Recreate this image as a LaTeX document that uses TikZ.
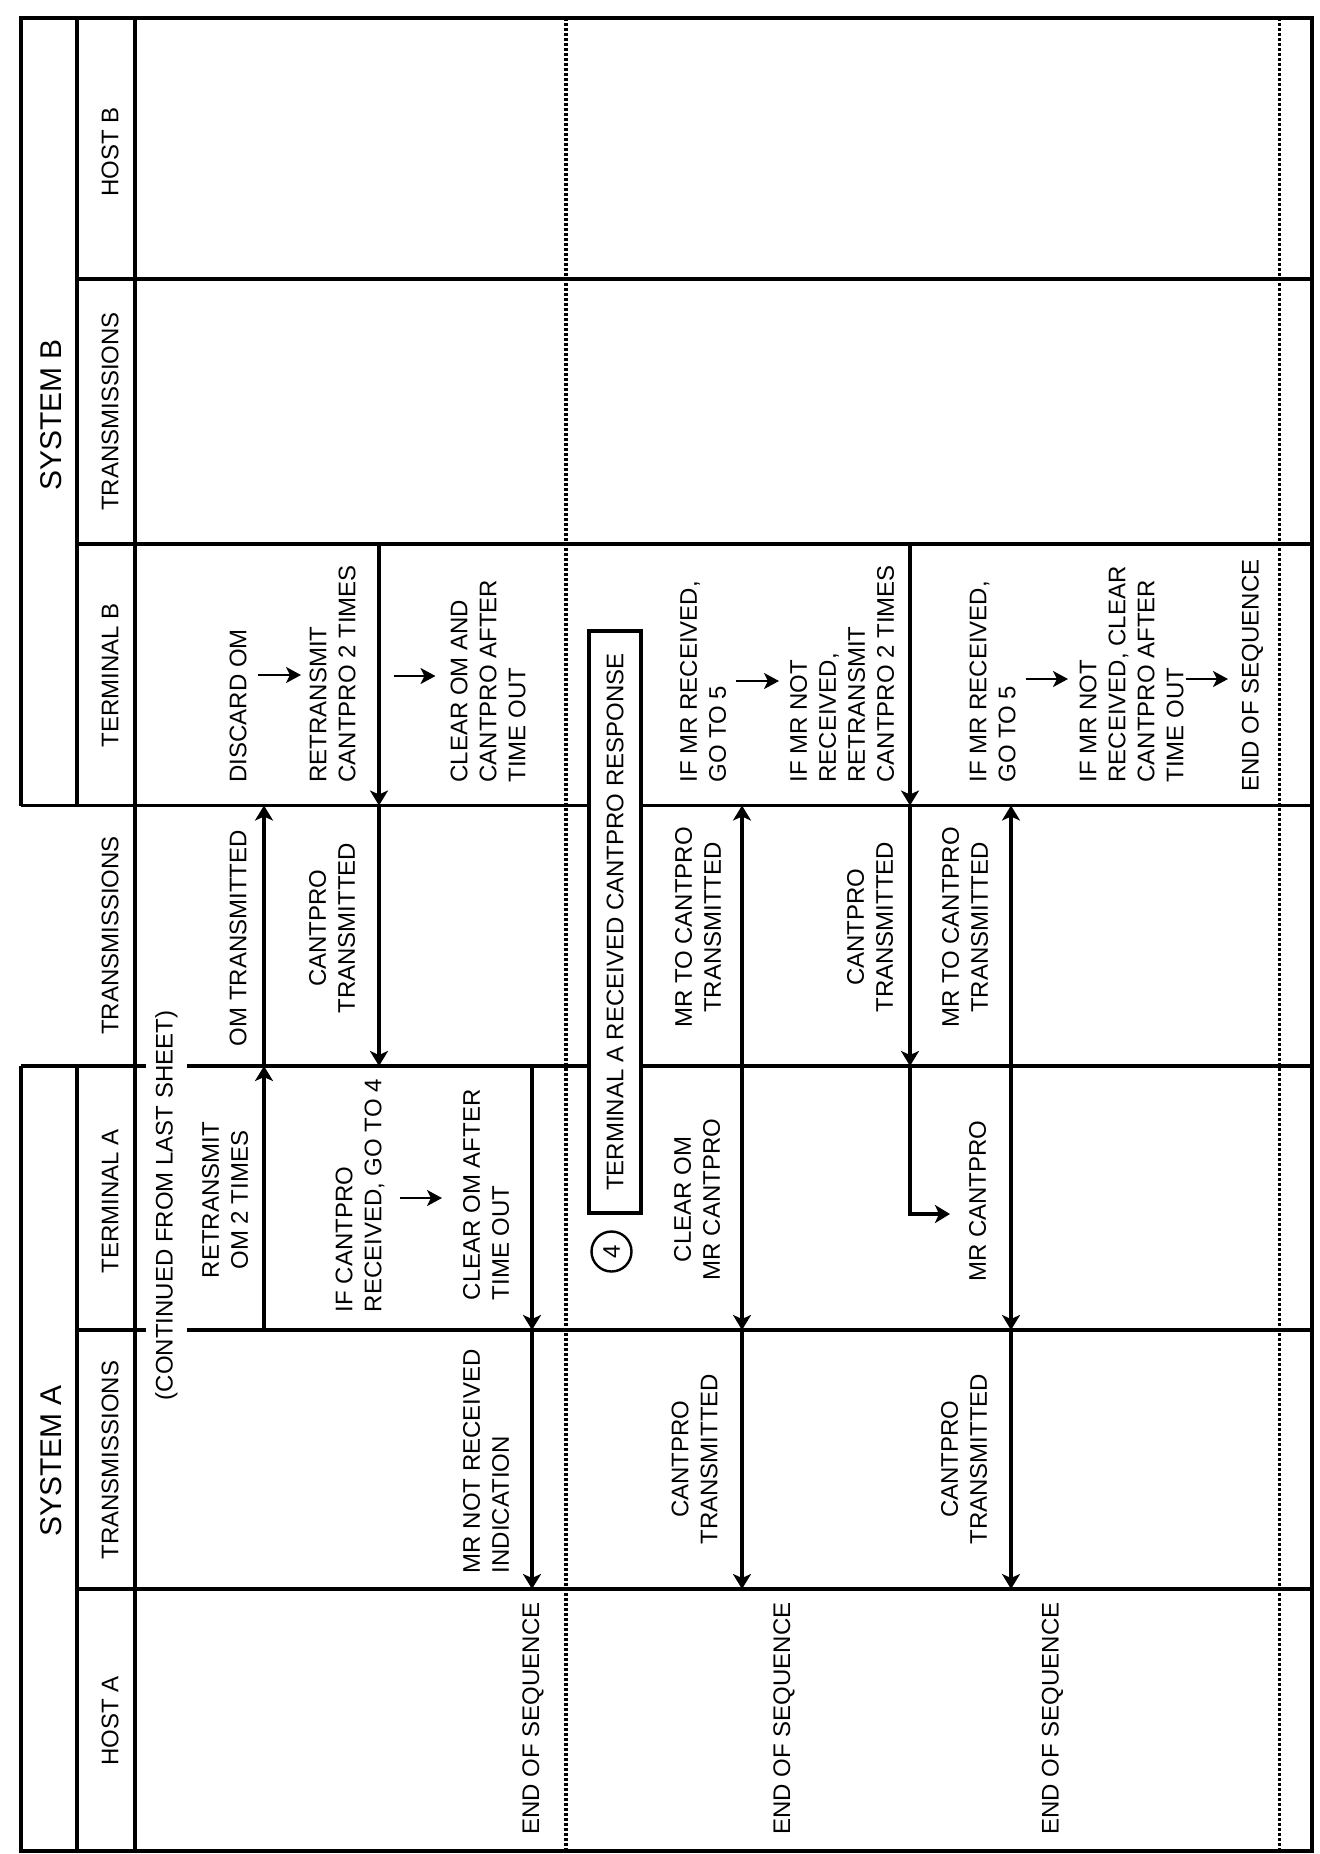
\documentclass[tikz,border=0pt]{standalone}
\usepackage{fontspec}
\setmainfont{Liberation Sans}
\usetikzlibrary{arrows.meta, positioning}

\tikzset{
  lane/.style={line width=1.9pt},
  sep/.style={line width=1.8pt, dash pattern=on 1.4pt off 1.1pt},
  flow/.style={line width=1.8pt, -{Stealth[length=7.5pt,width=9pt,inset=2pt]}},
  nextstep/.style={line width=1.3pt, -{Stealth[length=7.5pt,width=8pt,inset=2pt]}},
  txt/.style={rotate=90, inner sep=0pt, font=\fontsize{12}{14.5}\selectfont},
  ctxt/.style={txt, align=center},
  ltxt/.style={txt, align=left, anchor=west},
  sys/.style={rotate=90, inner sep=0pt, font=\fontsize{15}{18}\selectfont},
}

\begin{document}
\begin{tikzpicture}[x=0.5pt, y=-0.5pt]
			\useasboundingbox (0,0) rectangle (1320,1854);
			
			% separators
			\draw[sep] (566,18) -- (566,1851);
			\draw[sep] (1279.5,18) -- (1279.5,1851);
			
			% frame and lanes
			\draw[lane] (21,805.5) -- (21,18) -- (1312,18) -- (1312,1851) -- (21,1851) -- (21,1066);
			\draw[lane] (77,18) -- (77,805.5);
			\draw[lane] (77,1066) -- (77,1851);
			\draw[lane] (135,18) -- (135,1851);
			\draw[lane] (77,279) -- (1312,279);
			\draw[lane] (77,544) -- (1312,544);
			\draw[lane] (21,805.5) -- (1312,805.5);
			\draw[lane] (21,1066) -- (1312,1066);
			\draw[lane] (77,1330) -- (1312,1330);
			\draw[lane] (77,1589) -- (1312,1589);
			
			% headings
			\node[sys] (sysB) at (51.5,415) {SYSTEM B};
			\node[sys] (sysA) at (51.5,1461) {SYSTEM A};
			\node[ctxt] (hostB) at (110,152) {HOST B};
			\node[ctxt] (trB) at (110,411.5) {TRANSMISSIONS};
			\node[ctxt] (termB) at (110,675) {TERMINAL B};
			\node[ctxt] (trM) at (110,935.5) {TRANSMISSIONS};
			\node[ctxt] (termA) at (110,1201) {TERMINAL A};
			\node[ctxt] (trA) at (110,1460) {TRANSMISSIONS};
			\node[ctxt] (hostA) at (110,1721) {HOST A};
			
			% terminal B
			\node[ltxt] (discard) at (238,783) {DISCARD OM};
			\node[ltxt] (retxB) at (332.5,783) {RETRANSMIT\\CANTPRO 2 TIMES};
			\node[ltxt] (clearB) at (488,783) {CLEAR OM AND\\CANTPRO AFTER\\TIME OUT};
			\node[ltxt] (ifmrA) at (703,783) {IF MR RECEIVED,\\GO TO 5};
			\node[ltxt] (ifnotA) at (842,783) {IF MR NOT\\RECEIVED,\\RETRANSMIT\\CANTPRO 2 TIMES};
			\node[ltxt] (ifmrB) at (992.5,783) {IF MR RECEIVED,\\GO TO 5};
			\node[ltxt] (ifnotB) at (1131.5,783) {IF MR NOT\\RECEIVED, CLEAR\\CANTPRO AFTER\\TIME OUT};
			\node[ltxt] (endB) at (1252.5,792) {END OF SEQUENCE};
			
			% transmissions between systems
			\node[ctxt] (omtx) at (238,938) {OM TRANSMITTED};
			\node[ctxt] (cptxA) at (332,928) {CANTPRO\\TRANSMITTED};
			\node[ctxt] (mrtxA) at (698,927.5) {MR TO CANTPRO\\TRANSMITTED};
			\node[ctxt] (cptxB) at (870,927) {CANTPRO\\TRANSMITTED};
			\node[ctxt] (mrtxB) at (965,927.5) {MR TO CANTPRO\\TRANSMITTED};
			
			% terminal A
			\node[ctxt] (retxA) at (225,1200) {RETRANSMIT\\OM 2 TIMES};
			\node[ltxt] (ifcp) at (360,1312.5) {IF CANTPRO\\RECEIVED, GO TO 4};
			\node[ltxt] (clearA) at (486,1300.5) {CLEAR OM AFTER\\TIME OUT};
			\node[ctxt] (clrmr) at (697,1199.5) {CLEAR OM\\MR CANTPRO};
			\node[ctxt] (mrcp) at (977.5,1201) {MR CANTPRO};
			
			% transmissions A and host A
			\node[ltxt] (mrni) at (486,1573.5) {MR NOT RECEIVED\\INDICATION};
			\node[ctxt] (cptxC) at (694.5,1459) {CANTPRO\\TRANSMITTED};
			\node[ctxt] (cptxD) at (964,1459) {CANTPRO\\TRANSMITTED};
			\node[ltxt] (endA) at (533,1835) {END OF SEQUENCE};
			\node[ltxt] (endAA) at (784,1835) {END OF SEQUENCE};
			\node[ltxt] (endAB) at (1052.5,1835) {END OF SEQUENCE};
			
			% arrows
			\coordinate (omA) at (264,1330);
			\coordinate (omT) at (264,1066);
			\coordinate (omB) at (264,805.5);
			\draw[flow] (omA) -- (omT);
			\draw[flow] (omT) -- (omB);
			
			\coordinate (cpB) at (379,544);
			\coordinate (cpT) at (379,805.5);
			\coordinate (cpA) at (379,1066);
			\draw[flow] (cpB) -- (cpT);
			\draw[flow] (cpT) -- (cpA);
			
			\coordinate (clA) at (532,1066);
			\coordinate (clT) at (532,1330);
			\coordinate (clH) at (532,1589);
			\draw[flow] (clA) -- (clT);
			\draw[flow] (clT) -- (clH);
			
			\foreach \mx/\nm in {742/a, 1011/b}{
				\coordinate (mr\nm B) at (\mx,805.5);
				\coordinate (mr\nm A) at (\mx,1066);
				\coordinate (mr\nm T) at (\mx,1330);
				\coordinate (mr\nm H) at (\mx,1589);
				\draw[flow] (mr\nm A) -- (mr\nm B);
				\draw[flow] (mr\nm A) -- (mr\nm T);
				\draw[flow] (mr\nm T) -- (mr\nm H);
			}
			
			\coordinate (rcB) at (910,544);
			\coordinate (rcT) at (910,805.5);
			\coordinate (rcA) at (910,1066);
			\coordinate (rcE) at (950,1214);
			\draw[flow] (rcB) -- (rcT);
			\draw[flow] (rcT) -- (rcA);
			\draw[flow] (rcA) |- (rcE);
			
			% next step arrows
			\foreach \n/\xa/\xb/\yy in {1/258/301/675, 2/393.5/435.5/676, 3/400/442/1198, 4/736/779/681, 5/1026/1068/679, 6/1186/1228/679}{
				\coordinate (g\n a) at (\xa,\yy);
				\coordinate (g\n b) at (\xb,\yy);
				\draw[nextstep] (g\n a) -- (g\n b);
			}
			
			% received box and marker
			\node[txt, draw, fill=white, line width=1.9pt, minimum width=291pt, minimum height=26pt] (recv) at (615,922) {TERMINAL A RECEIVED CANTPRO RESPONSE};
			\node[circle, draw, line width=1.2pt, minimum size=20pt, inner sep=0pt, rotate=90, font=\fontsize{12}{14.5}\selectfont] (four) at (611.5,1251.5) {4};
			
			\node[txt, fill=white, inner xsep=0pt, inner ysep=4.6pt] (cont) at (166.5,1205.5) {(CONTINUED FROM LAST SHEET)};
			
		\end{tikzpicture}
\end{document}
